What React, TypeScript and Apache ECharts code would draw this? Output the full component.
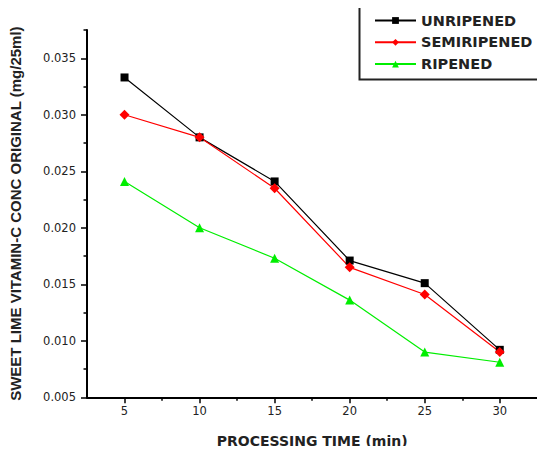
import React, { useEffect, useRef } from "react";
import * as echarts from "echarts";

const times = [5, 10, 15, 20, 25, 30];
const unripened = [0.0333, 0.028, 0.0241, 0.0171, 0.0151, 0.0092];
const semiripened = [0.03, 0.028, 0.0235, 0.0165, 0.0141, 0.009];
const ripened = [0.0241, 0.02, 0.0173, 0.0136, 0.009, 0.0081];

const xMajor = [5, 10, 15, 20, 25, 30];
const xMinor = [7.5, 12.5, 17.5, 22.5, 27.5, 32.5];
const yMajor = [0.005, 0.01, 0.015, 0.02, 0.025, 0.03, 0.035];
const yMinor = [0.0075, 0.0125, 0.0175, 0.0225, 0.0275, 0.0325, 0.0375];

const seriesNames = ["UNRIPENED", "SEMIRIPENED", "RIPENED"];

export default function App() {
  const ref = useRef<HTMLDivElement>(null);
  useEffect(() => {
    if (!ref.current) return;
    const chart = echarts.init(ref.current, null, { renderer: "svg" });
    const pair = (arr: number[]) => times.map((t, i) => [t, arr[i]]);
    const tickFont = { fontFamily: "DejaVu Sans", fontSize: 11.5, color: "#222" };
    const grid = { left: 84, right: 7.7, top: 30, bottom: 56.7 };
    chart.setOption({
      animation: false,
      backgroundColor: "#fff",
      grid,
      legend: {
        orient: "vertical",
        left: 359.5,
        top: 5,
        padding: [8, 30, 8, 14.5],
        itemWidth: 41,
        itemHeight: 8.5,
        itemGap: 6.8,
        borderColor: "#222",
        borderWidth: 2,
        borderRadius: 0,
        data: seriesNames,
        textStyle: {
          fontFamily: "DejaVu Sans",
          fontWeight: "bold",
          fontSize: 14.5,
          lineHeight: 14,
          color: "#222",
        },
      },
      xAxis: [
        {
          type: "value",
          min: 2.5,
          max: 32.5,
          position: "bottom",
          name: "PROCESSING TIME (min)",
          nameLocation: "middle",
          nameGap: 37,
          nameTextStyle: {
            fontFamily: "DejaVu Sans",
            fontWeight: "bold",
            fontSize: 14,
            color: "#222",
          },
          axisLine: { show: true, lineStyle: { color: "#000", width: 2 } },
          axisTick: {
            show: true,
            customValues: xMajor,
            length: 6,
            lineStyle: { color: "#000", width: 1.5 },
          },
          axisLabel: { customValues: xMajor, margin: 8, ...tickFont },
          splitLine: { show: false },
        },
        {
          type: "value",
          min: 2.5,
          max: 32.5,
          position: "bottom",
          axisLine: { show: false },
          axisTick: {
            show: true,
            customValues: xMinor,
            length: 3.5,
            lineStyle: { color: "#000", width: 1.5 },
          },
          axisLabel: { show: false },
          splitLine: { show: false },
        },
      ],
      yAxis: [
        {
          type: "value",
          min: 0.005,
          max: 0.0375,
          position: "left",
          name: "SWEET LIME VITAMIN-C CONC ORIGINAL (mg/25ml)",
          nameLocation: "middle",
          nameGap: 64,
          nameTextStyle: {
            fontFamily: "Liberation Sans",
            fontWeight: "bold",
            fontSize: 15,
            color: "#222",
          },
          axisLine: { show: true, lineStyle: { color: "#000", width: 2 } },
          axisTick: {
            show: true,
            customValues: yMajor,
            length: 6,
            lineStyle: { color: "#000", width: 1.5 },
          },
          axisLabel: {
            customValues: yMajor,
            margin: 11,
            formatter: (v: number) => v.toFixed(3),
            ...tickFont,
          },
          splitLine: { show: false },
        },
        {
          type: "value",
          min: 0.005,
          max: 0.0375,
          position: "left",
          axisLine: { show: false },
          axisTick: {
            show: true,
            customValues: yMinor,
            length: 3.5,
            lineStyle: { color: "#000", width: 1.5 },
          },
          axisLabel: { show: false },
          splitLine: { show: false },
        },
      ],
      series: [
        {
          name: seriesNames[0],
          type: "line",
          data: pair(unripened),
          symbol: "rect",
          symbolSize: 8,
          lineStyle: { color: "#000", width: 1.2 },
          itemStyle: { color: "#000" },
        },
        {
          name: seriesNames[1],
          type: "line",
          data: pair(semiripened),
          symbol: "diamond",
          symbolSize: 10,
          lineStyle: { color: "#ff0000", width: 1.2 },
          itemStyle: { color: "#ff0000" },
        },
        {
          name: seriesNames[2],
          type: "line",
          data: pair(ripened),
          symbol: "triangle",
          symbolSize: 9,
          lineStyle: { color: "#00ee00", width: 1.2 },
          itemStyle: { color: "#00ee00" },
        },
      ],
    });
    return () => chart.dispose();
  }, []);
  return <div ref={ref} style={{ width: 545, height: 454, margin: -8 }} />;
}
